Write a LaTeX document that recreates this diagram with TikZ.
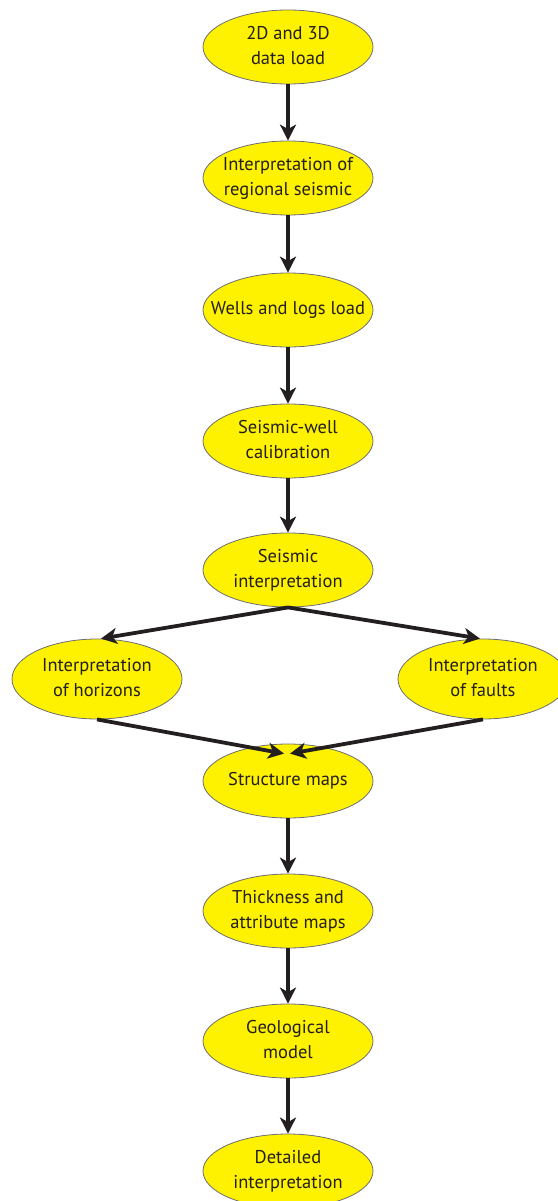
\documentclass[tikz,border=0pt]{standalone}
\usepackage{fontspec}
\setmainfont{PT Sans}
\usetikzlibrary{shapes.geometric,arrows.meta}
\definecolor{ellfill}{HTML}{FFF200}
\definecolor{ink}{HTML}{231F20}
\definecolor{rim}{HTML}{6D6E71}
\newcommand{\elltext}[1]{\makebox[0pt]{\begin{tabular}{@{}c@{}}#1\end{tabular}}}
\begin{document}
\begin{tikzpicture}[x=1pt,y=-1pt,
  ell/.style={ellipse,draw=rim,line width=0.8pt,fill=ellfill,minimum width=170pt,minimum height=74pt,inner sep=0pt,text=ink,font=\fontsize{18.5}{24}\selectfont},
  flow/.style={draw=ink,line width=3.8pt,-{Stealth[length=16pt,width=16pt,inset=4.5pt]}}]
\useasboundingbox (0,0) rectangle (557,1201);
\renewcommand{\arraystretch}{1.02}
\node[ell] (a) at (288,47) {\elltext{2D and 3D\\data load}};
\node[ell] (b) at (288,178) {\elltext{Interpretation of\\regional seismic}};
\node[ell] (c) at (288,310) {\elltext{Wells and logs load}};
\node[ell] (d) at (288,441) {\elltext{Seismic-well\\calibration}};
\node[ell] (e) at (288,570) {\elltext{Seismic\\interpretation}};
\node[ell,minimum height=80pt] (h) at (97,679) {\elltext{Interpretation\\of horizons}};
\node[ell,minimum height=80pt] (f) at (483,679) {\elltext{Interpretation\\of faults}};
\node[ell] (s) at (288,781) {\elltext{Structure maps}};
\node[ell] (t) at (288,911) {\elltext{Thickness and\\attribute maps}};
\node[ell] (g) at (288,1041) {\elltext{Geological\\model}};
\node[ell] (i) at (288,1171) {\elltext{Detailed\\interpretation}};
\draw[flow] (a.south) -- (b.north);
\draw[flow] (b.south) -- (c.north);
\draw[flow] (c.south) -- (d.north);
\draw[flow] (d.south) -- (e.north);
\draw[flow] (e.south) -- ([xshift=4pt]h.north);
\draw[flow] (e.south) -- ([xshift=-3pt]f.north);
\draw[flow] (h.south) -- ([xshift=-4pt,yshift=-10pt]s.north);
\draw[flow] (f.south) -- ([xshift=2pt,yshift=-10pt]s.north);
\draw[flow] (s.south) -- (t.north);
\draw[flow] (t.south) -- (g.north);
\draw[flow] (g.south) -- (i.north);
\end{tikzpicture}
\end{document}
